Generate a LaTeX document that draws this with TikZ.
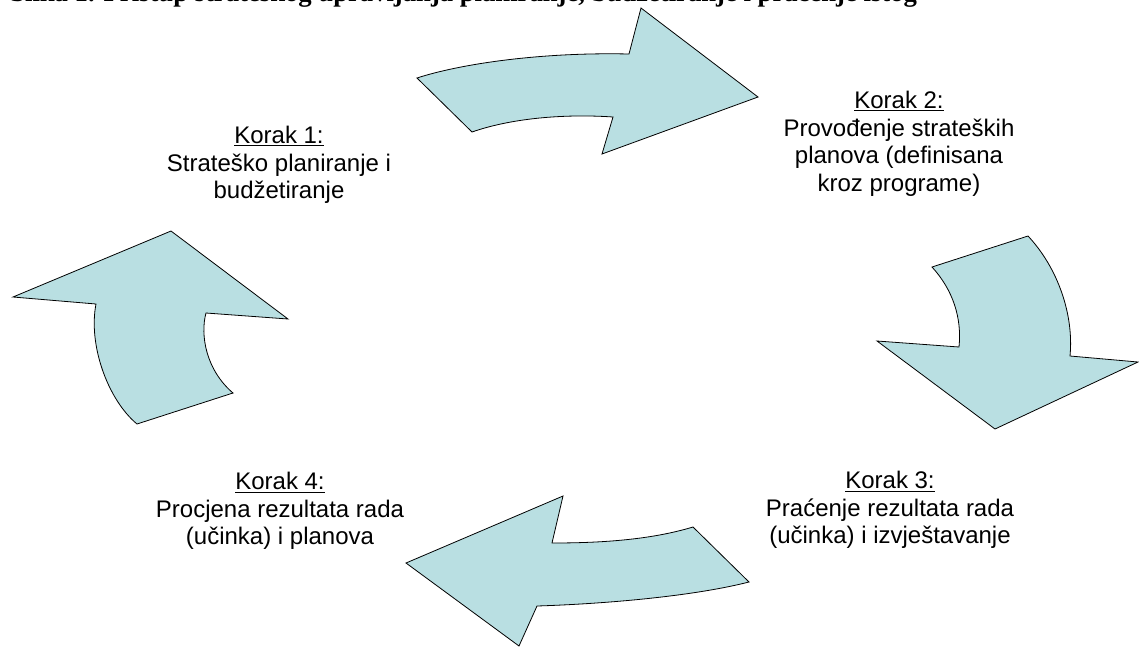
\documentclass[tikz,border=0pt]{standalone}
\usepackage{fontspec}
\setmainfont{Liberation Sans}
\newfontfamily\titlefont{Liberation Serif}

\definecolor{arrowcyan}{RGB}{185,223,226}
\tikzset{
  bend arrow/.style={draw=black, fill=arrowcyan, line width=0.6pt, line join=miter},
  korak text/.style={anchor=north, inner sep=0pt, align=center, font=\fontsize{18}{20.6}\selectfont},
}

\begin{document}
\begin{tikzpicture}[x=0.75pt,y=0.75pt,yscale=-1,xscale=1]
\useasboundingbox (0,0) rectangle (1139,647);
\clip (0,0) rectangle (1139,647);

% Title (cut off at the top)
\draw (10,1.5) node (naslov) [anchor=base west, inner sep=0pt, font=\titlefont\bfseries\fontsize{20}{22}\selectfont] {Slika 1. Pristup strateškog upravljanja planiranje, budžetiranje i praćenje istog};

%Curved Arrow, top
\draw [bend arrow] (417,78) .. controls (460,64) and (540,52) .. (629,54) -- (641,8) -- (758,97) -- (602,154) -- (613,117) .. controls (570,114) and (515,117) .. (472,132) -- cycle;
%Curved Arrow, right
\draw [bend arrow] (932,267) -- (1028,236) .. controls (1058,268) and (1074,315) .. (1070,356) -- (1138,362) -- (995,429) -- (877,341) -- (959,347) .. controls (962,318) and (953,290) .. (932,267) -- cycle;
%Curved Arrow, bottom
\draw [bend arrow] (693,527) -- (749,582) .. controls (690,597) and (600,604) .. (537,606) -- (519,646) -- (406,563) -- (563,496) -- (552,543) .. controls (600,543) and (650,540) .. (693,527) -- cycle;
%Curved Arrow, left
\draw [bend arrow] (171,231) -- (288,319) -- (206,313) .. controls (200,335) and (206,370) .. (233,393) -- (137,424) .. controls (108,400) and (88,345) .. (96,304) -- (13,297) -- cycle;

% Text Node
\draw (279,126) node (korakA) [korak text] {\underline{Korak 1:}\\Strateško planiranje i\\budžetiranje};
% Text Node
\draw (899,91) node (korakB) [korak text] {\underline{Korak 2:}\\Provođenje strateških\\planova (definisana\\kroz programe)};
% Text Node
\draw (890,471) node (korakC) [korak text] {\underline{Korak 3:}\\Praćenje rezultata rada\\(učinka) i izvještavanje};
% Text Node
\draw (280,472) node (korakD) [korak text] {\underline{Korak 4:}\\Procjena rezultata rada\\(učinka) i planova};

\end{tikzpicture}
\end{document}
